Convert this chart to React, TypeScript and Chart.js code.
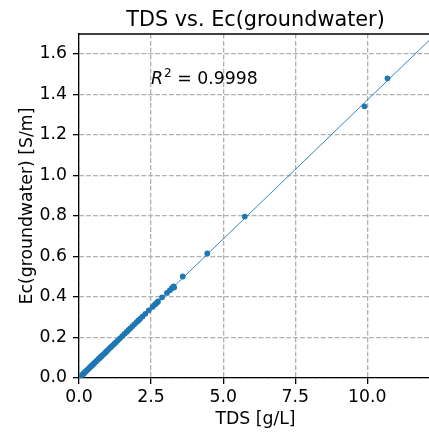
import React, { useEffect, useRef } from 'react';
import { Chart, registerables } from 'chart.js';

Chart.register(...registerables);

// Measured samples: TDS [g/L] vs Ec(groundwater) [S/m]
const tds = [
  0.05, 0.08, 0.12, 0.15, 0.18, 0.22, 0.25, 0.28, 0.31, 0.35, 0.38, 0.42, 0.45,
  0.48, 0.52, 0.55, 0.6, 0.63, 0.68, 0.72, 0.76, 0.8, 0.85, 0.9, 0.95, 1.0, 1.05,
  1.1, 1.16, 1.22, 1.28, 1.35, 1.42, 1.5, 1.58, 1.65, 1.72, 1.78, 1.85, 1.92, 2.0,
  2.06, 2.12, 2.2, 2.3, 2.42, 2.55, 2.62, 2.66, 2.7, 2.74, 2.88, 3.05, 3.15, 3.22,
  3.28, 3.3, 3.6, 4.45, 5.75, 9.9, 10.7,
];
const ec = [
  0.007, 0.011, 0.017, 0.021, 0.025, 0.031, 0.034, 0.039, 0.043, 0.048, 0.053,
  0.058, 0.062, 0.066, 0.072, 0.076, 0.083, 0.087, 0.094, 0.099, 0.105, 0.11,
  0.117, 0.124, 0.131, 0.138, 0.145, 0.152, 0.16, 0.168, 0.176, 0.186, 0.196,
  0.207, 0.218, 0.227, 0.237, 0.245, 0.255, 0.265, 0.276, 0.284, 0.292, 0.303,
  0.317, 0.334, 0.351, 0.361, 0.366, 0.372, 0.378, 0.398, 0.42, 0.433, 0.443,
  0.452, 0.447, 0.501, 0.615, 0.797, 1.341, 1.479,
];

// Fitted regression line endpoints
const fitX = [0, 12.5];
const fitY = [0, 1.715];

const xTicks = [0, 2.5, 5, 7.5, 10];
const yTicks = [0, 0.2, 0.4, 0.6, 0.8, 1.0, 1.2, 1.4, 1.6];

const titleText = 'TDS vs. Ec(groundwater)';
const xLabel = 'TDS [g/L]';
const yLabel = 'Ec(groundwater) [S/m]';
const r2Value = '0.9998';
const r2Pos = [2.5, 1.45];

const FONT = 'DejaVu Sans';
const BLUE = '#1f77b4';

export default function App() {
  const ref = useRef<HTMLCanvasElement>(null);

  useEffect(() => {
    if (!ref.current) return;

    const decor = {
      id: 'decor',
      afterDraw(chart: any) {
        const { ctx, chartArea: a, scales } = chart;
        ctx.save();
        // top spine
        ctx.strokeStyle = '#000';
        ctx.lineWidth = 1.3;
        ctx.beginPath();
        ctx.moveTo(a.left, a.top);
        ctx.lineTo(a.right, a.top);
        ctx.stroke();

        ctx.fillStyle = '#000';
        ctx.textBaseline = 'alphabetic';
        // title
        ctx.textAlign = 'center';
        ctx.font = `20.8px "${FONT}"`;
        ctx.fillText(titleText, 255.5, 26);
        // x label
        ctx.font = `17.3px "${FONT}"`;
        ctx.fillText(xLabel, 255.5, 424);
        // y label
        ctx.save();
        ctx.translate(32, (a.top + a.bottom) / 2);
        ctx.rotate(-Math.PI / 2);
        ctx.fillText(yLabel, 0, 0);
        ctx.restore();

        // R^2 annotation
        const px = scales.x.getPixelForValue(r2Pos[0]);
        const py = scales.y.getPixelForValue(r2Pos[1]);
        ctx.textAlign = 'left';
        ctx.font = `italic 17.3px "${FONT}"`;
        ctx.fillText('R', px, py);
        let x = px + ctx.measureText('R').width + 1;
        ctx.font = `12.1px "${FONT}"`;
        ctx.fillText('2', x, py - 7);
        x += ctx.measureText('2').width;
        ctx.font = `17.3px "${FONT}"`;
        ctx.fillText(' = ' + r2Value, x, py);
        ctx.restore();
      },
    };

    const tickFont = { family: FONT, size: 17.3 };
    const gridCommon = {
      color: '#b0b0b0',
      lineWidth: 1.3,
      drawTicks: true,
      tickLength: 6,
      tickColor: '#000',
      tickWidth: 1.3,
      tickBorderDash: [],
    };
    const border = { display: true, color: '#000', width: 1.3, dash: [4.8, 2.1] };

    const chart = new Chart(ref.current, {
      type: 'scatter',
      data: {
        datasets: [
          {
            type: 'line',
            data: fitX.map((x, i) => ({ x, y: fitY[i] })),
            borderColor: BLUE,
            borderWidth: 0.9,
            pointRadius: 0,
            showLine: true,
            order: 0,
          } as any,
          {
            type: 'scatter',
            data: tds.map((x, i) => ({ x, y: ec[i] })),
            backgroundColor: BLUE,
            borderWidth: 0,
            pointRadius: 2.9,
            order: 1,
          },
        ],
      },
      options: {
        animation: false,
        responsive: false,
        devicePixelRatio: 1,
        layout: { autoPadding: false, padding: { top: 34, left: 0, right: 0, bottom: 0 } },
        plugins: { legend: { display: false }, tooltip: { enabled: false }, title: { display: false } },
        scales: {
          x: {
            type: 'linear',
            min: 0,
            max: 12.14,
            afterFit: (s: any) => { s.height = 54; },
            afterBuildTicks: (s: any) => { s.ticks = xTicks.map((v) => ({ value: v })); },
            ticks: {
              font: tickFont,
              color: '#000',
              padding: 3,
              maxRotation: 0,
              autoSkip: false,
              callback: (v: any) => Number(v).toFixed(1),
            },
            grid: gridCommon,
            border,
          },
          y: {
            type: 'linear',
            min: 0,
            max: 1.698,
            afterFit: (s: any) => { s.width = 79; },
            afterBuildTicks: (s: any) => { s.ticks = yTicks.map((v) => ({ value: v })); },
            ticks: {
              font: tickFont,
              color: '#000',
              padding: 6,
              autoSkip: false,
              callback: (v: any) => Number(v).toFixed(1),
            },
            grid: gridCommon,
            border,
          },
        },
      },
      plugins: [decor],
    });

    return () => chart.destroy();
  }, []);

  return (
    <div style={{ position: 'fixed', left: 0, top: 0, width: 429, height: 432, background: '#fff' }}>
      <canvas ref={ref} width={429} height={432} />
    </div>
  );
}
